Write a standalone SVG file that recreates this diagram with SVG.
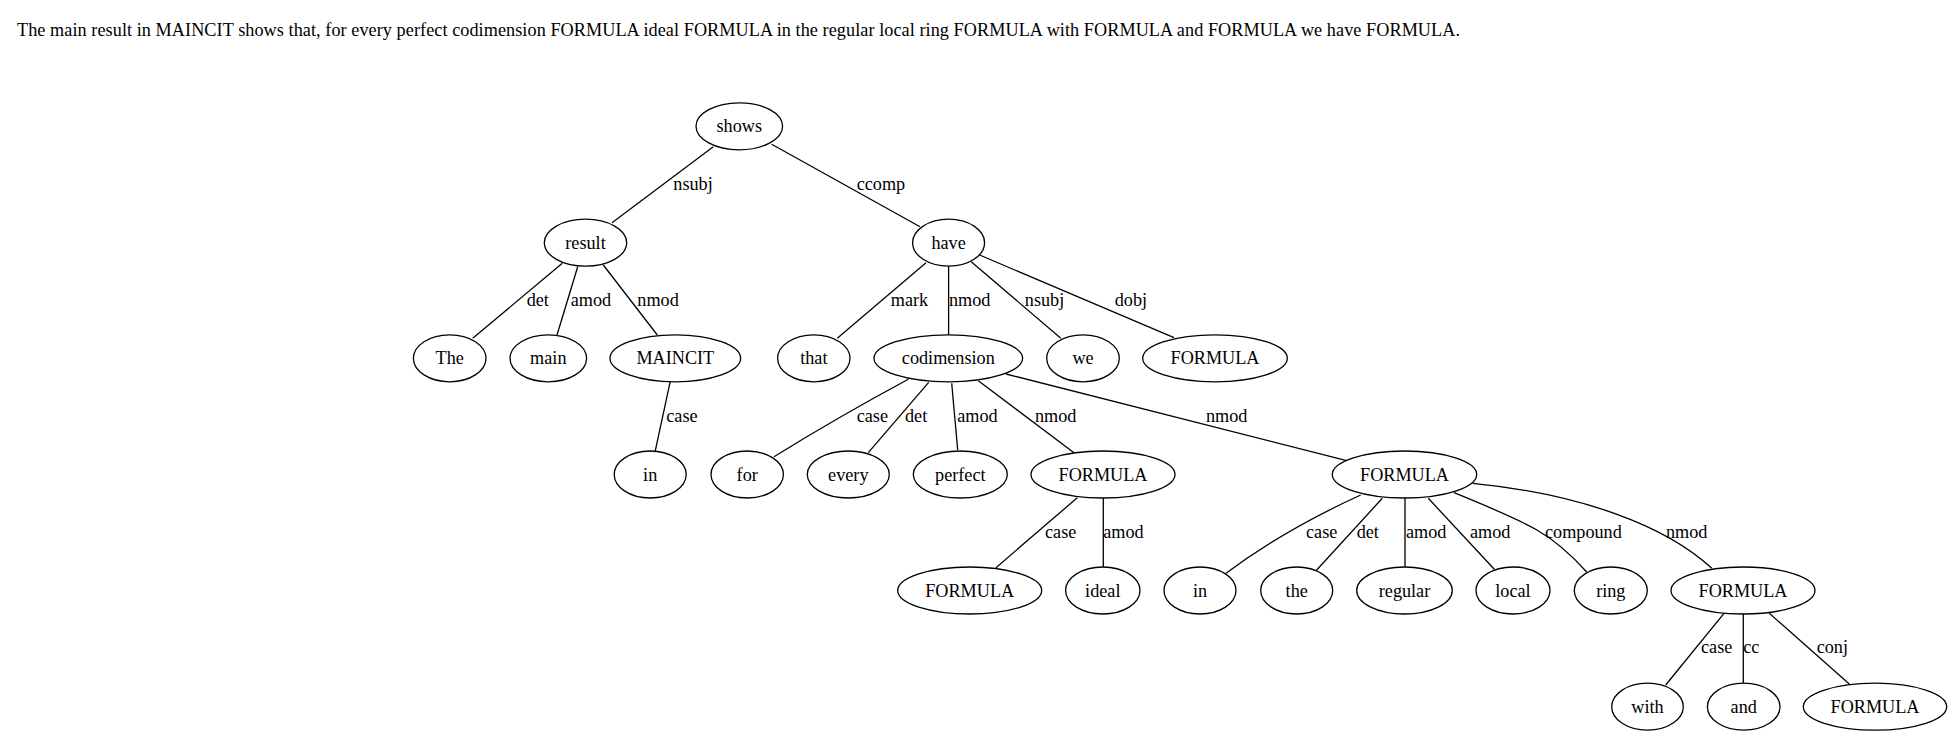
<svg xmlns="http://www.w3.org/2000/svg" width="1953" height="736" viewBox="0 0 1953 736">
<style>
text{font-family:"Liberation Serif","Times New Roman",serif;font-size:18.2px;fill:#000}
.n ellipse{fill:none;stroke:#000;stroke-width:1.3}
.n text{text-anchor:middle}
#edges path,#edges line{fill:none;stroke:#000;stroke-width:1.3}
</style>
<rect width="1953" height="736" fill="#fff"/>
<text id="sentence" x="17" y="36" textLength="1443" lengthAdjust="spacing">The main result in MAINCIT shows that, for every perfect codimension FORMULA ideal FORMULA in the regular local ring FORMULA with FORMULA and FORMULA we have FORMULA.</text>
<g id="edges">
<line x1="713.3" y1="146.7" x2="612" y2="222.7"/>
<line x1="771.7" y1="144.3" x2="920" y2="226.7"/>
<line x1="562.3" y1="263.3" x2="472.7" y2="338.3"/>
<line x1="577.7" y1="266.7" x2="556.7" y2="336"/>
<line x1="603.3" y1="265" x2="657.3" y2="335"/>
<line x1="670.2" y1="381.7" x2="655.2" y2="451.2"/>
<line x1="926" y1="262.7" x2="837.3" y2="338.3"/>
<line x1="948.6" y1="266.2" x2="948.6" y2="335"/>
<line x1="971.2" y1="261.7" x2="1060.8" y2="338.3"/>
<line x1="979.6" y1="255" x2="1174" y2="337.7"/>
<path d="M908.3,379.3 Q840,416 774,456.7"/>
<line x1="928.7" y1="382.3" x2="868.3" y2="452.7"/>
<line x1="951.7" y1="383.3" x2="957.7" y2="450"/>
<line x1="978.3" y1="380.7" x2="1074" y2="452.7"/>
<line x1="1006" y1="374" x2="1346.7" y2="460.7"/>
<line x1="1077.3" y1="497.7" x2="996" y2="567.7"/>
<line x1="1103.3" y1="497.7" x2="1103.3" y2="567"/>
<path d="M1360.7,495 Q1284,530 1226,573.3"/>
<line x1="1382.3" y1="498.3" x2="1316.7" y2="570"/>
<line x1="1405" y1="498" x2="1405" y2="567"/>
<line x1="1428.3" y1="498.3" x2="1494.3" y2="569.3"/>
<path d="M1454,492.7 C1532.5,524.6 1552.5,533.8 1586.7,572"/>
<path d="M1472.8,483.3 C1580,494 1665,525 1711.8,568.3"/>
<line x1="1724" y1="613.3" x2="1665.7" y2="685"/>
<line x1="1743.3" y1="613.5" x2="1743.3" y2="683"/>
<line x1="1769.3" y1="613.3" x2="1849.3" y2="684"/>
</g>
<g id="edge-labels">
<text x="673.3" y="190">nsubj</text>
<text x="856.7" y="190">ccomp</text>
<text x="526.7" y="306">det</text>
<text x="570.7" y="306">amod</text>
<text x="637.3" y="306">nmod</text>
<text x="890.8" y="306">mark</text>
<text x="949" y="306">nmod</text>
<text x="1024.8" y="306">nsubj</text>
<text x="1114.7" y="306">dobj</text>
<text x="666.3" y="421.7">case</text>
<text x="856.7" y="421.7">case</text>
<text x="905" y="421.7">det</text>
<text x="957.3" y="421.7">amod</text>
<text x="1035" y="421.7">nmod</text>
<text x="1206" y="421.7">nmod</text>
<text x="1045" y="537.5">case</text>
<text x="1103.3" y="537.5">amod</text>
<text x="1306" y="538">case</text>
<text x="1356.7" y="538">det</text>
<text x="1406" y="538">amod</text>
<text x="1470" y="538">amod</text>
<text x="1545" y="538">compound</text>
<text x="1666" y="538">nmod</text>
<text x="1701" y="653.3">case</text>
<text x="1743.3" y="653.3">cc</text>
<text x="1816.7" y="653.3">conj</text>
</g>
<g id="n-shows" class="n"><ellipse cx="739.3" cy="126.3" rx="43.3" ry="23.5"/><text x="739.3" y="132.3">shows</text></g>
<g id="n-result" class="n"><ellipse cx="585.5" cy="242.7" rx="41.2" ry="23.5"/><text x="585.5" y="248.7">result</text></g>
<g id="n-have" class="n"><ellipse cx="948.6" cy="242.7" rx="36" ry="23.5"/><text x="948.6" y="248.7">have</text></g>
<g id="n-The" class="n"><ellipse cx="449.7" cy="358.3" rx="36.3" ry="23.5"/><text x="449.7" y="364.3">The</text></g>
<g id="n-main" class="n"><ellipse cx="548.3" cy="358.3" rx="38.3" ry="23.5"/><text x="548.3" y="364.3">main</text></g>
<g id="n-MAINCIT" class="n"><ellipse cx="675.3" cy="358.3" rx="65.3" ry="23.5"/><text x="675.3" y="364.3">MAINCIT</text></g>
<g id="n-that" class="n"><ellipse cx="813.8" cy="358.3" rx="36.2" ry="23.5"/><text x="813.8" y="364.3">that</text></g>
<g id="n-codimension" class="n"><ellipse cx="948.3" cy="358.3" rx="74.3" ry="23.5"/><text x="948.3" y="364.3">codimension</text></g>
<g id="n-we" class="n"><ellipse cx="1083" cy="358.3" rx="36.3" ry="23.5"/><text x="1083" y="364.3">we</text></g>
<g id="n-formula-dobj" class="n"><ellipse cx="1215" cy="358.3" rx="72.3" ry="23.5"/><text x="1215" y="364.3">FORMULA</text></g>
<g id="n-in1" class="n"><ellipse cx="650.2" cy="474.5" rx="36" ry="23.5"/><text x="650.2" y="480.5">in</text></g>
<g id="n-for" class="n"><ellipse cx="747.2" cy="474.5" rx="36.2" ry="23.5"/><text x="747.2" y="480.5">for</text></g>
<g id="n-every" class="n"><ellipse cx="848.3" cy="474.5" rx="41" ry="23.5"/><text x="848.3" y="480.5">every</text></g>
<g id="n-perfect" class="n"><ellipse cx="960.3" cy="474.5" rx="47" ry="23.5"/><text x="960.3" y="480.5">perfect</text></g>
<g id="n-formula-n1" class="n"><ellipse cx="1103" cy="474.5" rx="72" ry="23.5"/><text x="1103" y="480.5">FORMULA</text></g>
<g id="n-formula-big" class="n"><ellipse cx="1404.5" cy="474.5" rx="72.2" ry="23.5"/><text x="1404.5" y="480.5">FORMULA</text></g>
<g id="n-formula-case" class="n"><ellipse cx="969.7" cy="590.5" rx="72" ry="23.5"/><text x="969.7" y="596.5">FORMULA</text></g>
<g id="n-ideal" class="n"><ellipse cx="1102.8" cy="590.5" rx="37.2" ry="23.5"/><text x="1102.8" y="596.5">ideal</text></g>
<g id="n-in2" class="n"><ellipse cx="1200" cy="590.5" rx="36" ry="23.5"/><text x="1200" y="596.5">in</text></g>
<g id="n-the" class="n"><ellipse cx="1296.7" cy="590.5" rx="36" ry="23.5"/><text x="1296.7" y="596.5">the</text></g>
<g id="n-regular" class="n"><ellipse cx="1404.5" cy="590.5" rx="47.8" ry="23.5"/><text x="1404.5" y="596.5">regular</text></g>
<g id="n-local" class="n"><ellipse cx="1513" cy="590.5" rx="37" ry="23.5"/><text x="1513" y="596.5">local</text></g>
<g id="n-ring" class="n"><ellipse cx="1610.8" cy="590.5" rx="36.5" ry="23.5"/><text x="1610.8" y="596.5">ring</text></g>
<g id="n-formula-n2" class="n"><ellipse cx="1743" cy="590.5" rx="72" ry="23.5"/><text x="1743" y="596.5">FORMULA</text></g>
<g id="n-with" class="n"><ellipse cx="1647.5" cy="706.7" rx="35.8" ry="23.5"/><text x="1647.5" y="712.7">with</text></g>
<g id="n-and" class="n"><ellipse cx="1743.7" cy="706.7" rx="36.3" ry="23.5"/><text x="1743.7" y="712.7">and</text></g>
<g id="n-formula-conj" class="n"><ellipse cx="1875" cy="706.7" rx="71.7" ry="23.5"/><text x="1875" y="712.7">FORMULA</text></g>
</svg>
